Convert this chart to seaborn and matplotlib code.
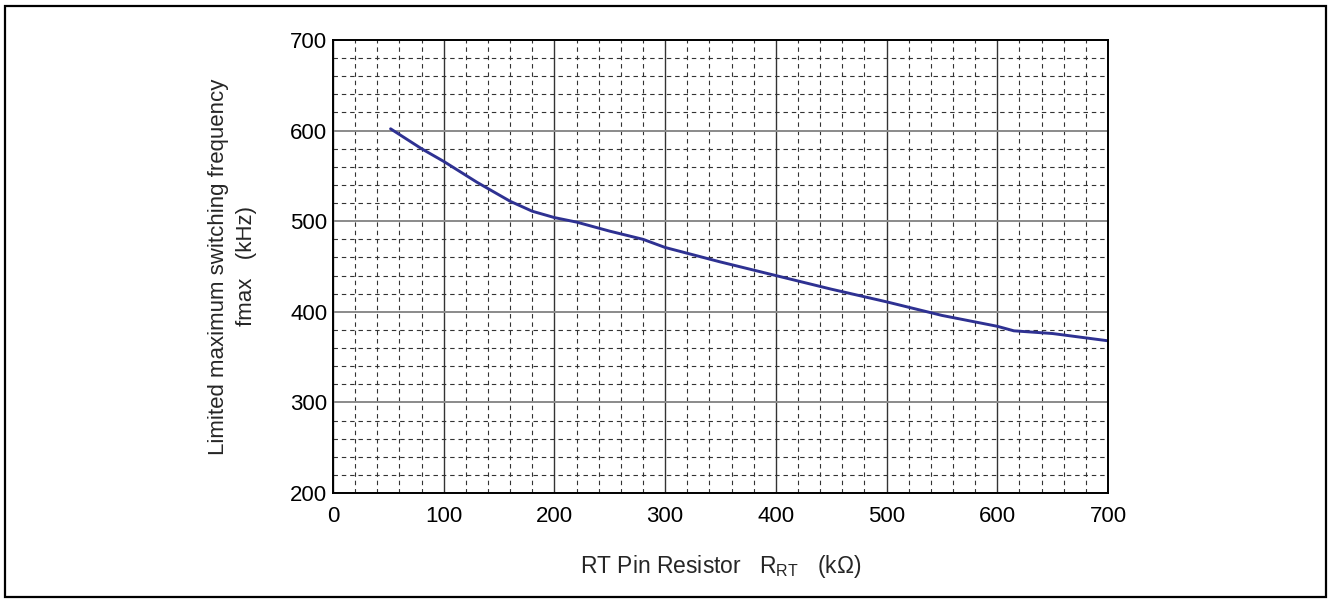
import numpy as np
import pandas as pd
import matplotlib.pyplot as plt
import seaborn as sns
from matplotlib.patches import Rectangle
from matplotlib.ticker import MultipleLocator

# values
rrt_kohm = [52, 80, 100, 130, 160, 180, 200, 220, 250, 280, 300, 350, 400,
            450, 500, 550, 600, 615, 650, 700]
fmax_khz = [602, 580, 566, 543, 522, 511, 504, 499, 489, 480, 471, 455, 440,
            425, 411, 396, 384, 379, 376, 368]

x_ticks = [0, 100, 200, 300, 400, 500, 600, 700]
y_ticks = [200, 300, 400, 500, 600, 700]

df = pd.DataFrame({'rrt': rrt_kohm, 'fmax': fmax_khz})

sns.set_style('white')
plt.rcParams['font.family'] = ['Liberation Sans', 'DejaVu Sans']
plt.rcParams['mathtext.fontset'] = 'custom'
plt.rcParams['mathtext.rm'] = 'Liberation Sans'
plt.rcParams['mathtext.it'] = 'Liberation Sans'

fig = plt.figure(figsize=(13.28, 5.99), dpi=100)
ax = fig.add_axes([333 / 1328, 1 - 493 / 599, (1108 - 333) / 1328, (493 - 40) / 599])

sns.lineplot(data=df, x='rrt', y='fmax', ax=ax, color='#2e3192', linewidth=2.1)

ax.set_xlim(0, 700)
ax.set_ylim(200, 700)
ax.set_xticks(x_ticks)
ax.set_yticks(y_ticks)
ax.xaxis.set_minor_locator(MultipleLocator(20))
ax.yaxis.set_minor_locator(MultipleLocator(20))

# grid: solid majors, dashed minors
ax.grid(which='minor', axis='both', color='#333333', linestyle=(0, (4, 3.5)), linewidth=0.8)
ax.grid(which='major', axis='x', color='#333333', linestyle='-', linewidth=1.0)
ax.grid(which='major', axis='y', color='#8a8a8a', linestyle='-', linewidth=1.4)
ax.set_axisbelow(True)

ax.tick_params(which='both', length=0, labelsize=16, colors='black')
ax.tick_params(axis='y', pad=4)
ax.tick_params(axis='x', pad=9)
for s in ax.spines.values():
    s.set_visible(True)
    s.set_color('black')
    s.set_linewidth(1.4)

ax.set_xlabel(r'RT Pin Resistor   R$_{\mathrm{RT}}$   (k$\Omega$)', fontsize=16.5, labelpad=19)
ax.set_ylabel('Limited maximum switching frequency\nfmax   (kHz)', fontsize=16, labelpad=24,
              linespacing=1.45)

# frame around the whole figure
fig.patches.append(Rectangle((5 / 1328, 2 / 599), 1321 / 1328, 591 / 599,
                             transform=fig.transFigure, fill=False,
                             edgecolor='black', linewidth=1.6))

fig.savefig('out.png', dpi=100)
